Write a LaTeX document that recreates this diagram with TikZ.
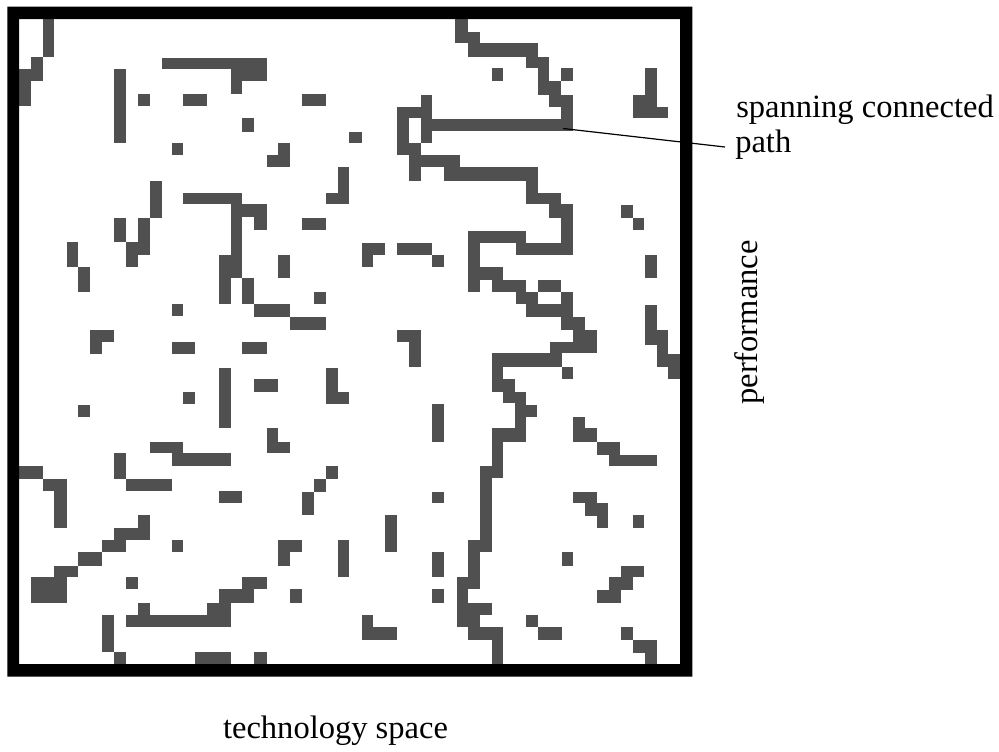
\documentclass[tikz,border=0pt]{standalone}
\usepackage{fontspec}
\setmainfont{Liberation Serif}
\definecolor{cellgray}{RGB}{80,80,80}
\begin{document}
\begin{tikzpicture}[x=0.75pt,y=-0.75pt,
  cell/.style={fill=cellgray},
  lbl/.style={inner sep=0pt,font=\fontsize{24.4}{29}\selectfont},
  leader/.style={draw=black,line width=0.9pt}]
\useasboundingbox (0,0) rectangle (999,751);
\fill[white] (0,0) rectangle (999,751);
% grey cells
\foreach \a/\b/\c/\d in {
42.7/19/54.3/57.3, 30.7/57.3/42.7/81, 19/69.3/30.7/105.7, 114/69.3/125.7/143.3,
137.7/94/149.7/105.7, 183.3/94/207/105.7, 161.7/57.7/266.7/69.3, 231/69.3/266.7/81,
231/81/242.3/94, 171.7/143.3/183.3/155, 149.7/180.7/161.7/218.3, 183.3/193.3/242.3/204.3,
231/204.3/242.3/278.3, 242.3/204.3/266.7/216.7, 254.3/216.7/266.7/230, 219/255/231/304.3,
242.3/278.3/254.3/304.3, 254.3/304.3/290/316.7, 290/316.7/325.7/330, 114/218.3/125.7/241.7,
137.7/218.3/149.7/255, 125.7/241.7/149.7/255, 125.7/255/137.7/267.3, 66.7/241.7/78.3/267.3,
78.3/267.3/90.3/292.3, 171.7/304.3/183.3/316, 90.3/330/114/342.3, 90.3/342.3/102/354,
171.7/342.3/195/354,
302.3/94/325.7/105.7, 242.3/118.3/254.3/131.7, 349.3/131.7/361.7/143.3, 278.3/143.3/290/166.7,
266.7/155/278.3/166.7, 337.7/167.3/349.3/204.3, 326/192.7/337.7/204.3, 302.3/218.3/325.7/230,
278.3/255/290/278.3, 314/292.3/325.7/304.3, 361.7/242.7/385/255, 361.7/255/373.3/267.3,
397.3/242.7/432.3/255, 432.3/255/444.3/267.3, 397.3/330/420.7/342.3, 409/342.3/420.7/367.3,
242.3/342/266.7/354,
420.7/95/432.3/143.3, 397.3/106.7/432.3/118.3, 397.3/106.7/409/155, 409/143.3/420.7/180.7,
409/155/460/167.3, 444.3/167.3/537.7/180.7,
455/19/468.3/43.3, 468.3/31.7/480/56.7, 468.3/43.3/537.7/56.7, 526/56.7/549.3/68.3,
537.7/68.3/549.3/95, 549.3/81/561/95, 549.3/95/573.3/106.7, 561/106.7/573.3/130.5,
432.3/118.5/573.3/130.5, 491.7/68.3/503.3/81, 561/68.3/573.3/81, 645/68.3/656.7/118.3,
632.7/95/645/118.3, 656.7/106.7/668.3/118.3,
526/180.7/537.7/204.3, 526/192.7/561/204.3, 549.3/204.3/573.3/218.3, 561/204.3/573.3/255,
516/242.7/573.3/255, 516/231/526/255, 468.3/231/526/242.7, 468.3/231/480/292.3,
468.3/267.3/503.3/280, 491.7/280/526/292.3, 516/292.3/537.7/304.3, 526/304.3/573.3/316.7,
561/316.7/585/330, 573.3/330/596.7/353.3, 537.7/280/561/292.3, 561/292.3/573.3/316.7,
620.7/205/632.7/218.3, 632.7/218.3/644.3/230, 645/255/656.7/278.3, 645/305/656.7/345,
656.7/330/668.3/366.7, 668.3/354/680/379.3,
550/341.7/573.3/353.3, 491.7/353.3/561.7/366.7, 491.7/353.3/503.3/391.7, 503.3/379.3/515/403.3,
515/391.7/526/441.7, 526/405/537.3/416.7, 491.7/428.3/526/441.7, 491.7/428.3/503.3/478.3,
480/466/503.3/478.3, 480/466/491.7/551.7, 468.3/540/491.7/551.7, 468.3/540/480/589.3,
456.7/577.3/480/589.3, 456.7/577.3/468.3/626.7, 456.7/603.3/491.7/615, 468.3/615/480/640,
468.3/626.7/503.3/640, 491.7/626.7/503.3/664, 561.7/366.7/573.3/379.3, 573.3/416.7/585/441.7,
585/428.3/596.7/441.7, 596.7/441.7/620/455, 609/455/656.7/466, 573.3/491.7/596.7/503.3,
585/503.3/608.3/516, 596.7/516/608.3/528.3, 632.7/515/644.3/528.3, 561.7/552.3/573.3/565.7,
620.7/566/644.3/577.3, 609/577.3/632.7/590, 597.3/590/620.7/602.7, 526/615/537.7/626.7,
537.7/626.7/561.7/640, 620.7/626.7/632.7/640, 632.7/640/656.7/653.3, 645/640/656.7/664,
78.3/405/90.3/416.7, 183.3/391.7/195/404.3, 219/367.7/231/428.3, 149.7/441.7/183.3/453.3,
171.7/453.3/231/465.7, 114/453.3/125.7/479.3, 125.7/479.3/171.7/491, 19/465.7/42.7/479.3,
42.7/479.3/66.7/491, 54.3/479.3/66.7/528.3, 219/491/242.3/503.3, 137.7/515/149.7/540,
114/528.3/149.7/540, 102.3/540/125.7/552.3, 78.3/552.3/102.3/565.7, 54.3/565.7/78.3/577.3,
30.7/577.3/66.7/603.3, 171.7/540/183.3/552.3, 125.7/577.3/137.7/589.3, 219/589.3/254.3/603.3,
242.3/577.3/266.7/589.3, 207.3/603.3/231/626.7, 125.7/615/231/626.7, 137.7/603.3/149.7/615,
102.3/615/114/652.3, 114/652.3/125.7/664, 195/652.3/231/664,
254.3/379.3/278.3/391.7, 326/367.7/337.7/404.3, 326/391.7/349.3/404.3, 266.7/428.3/278.3/453.3,
266.7/441.7/290/453.3, 432.3/404.3/444.3/441.7, 326/466/337.7/479.3, 314/479.3/326/491.7,
302.3/491.7/314/515, 432.3/491.7/444.3/503.3, 385/515/397.3/552.3, 278.3/540/301.7/552.3,
278.3/552.3/290/565.7, 337.7/540/349.3/577.3, 432.3/552.3/444.3/577.3, 290/589.3/301.7/603.3,
432.3/589.3/444.3/603.3, 361.7/615/373.3/640, 361.7/626.7/397.3/640, 254.3/652.3/266.7/664}
  \fill[cell] (\a,\b) rectangle (\c,\d);
% thick frame
\fill[black,even odd rule] (7.3,6.7) rectangle (692.3,676.7) (19,19) rectangle (680,664);
% labels
\node[lbl,anchor=base west] (spanlbl) at (736,117.3) {spanning connected};
\node[lbl,anchor=base west] (pathlbl) at (735,152.7) {path};
\node[lbl,anchor=base,rotate=90] (perf) at (757.7,322.5) {performance};
\node[lbl,anchor=base] (tech) at (335.5,738.3) {technology space};
% leader line
\coordinate (pend) at (563,128.5);
\coordinate (lend) at (725,147);
\draw[leader] (pend) -- (lend);
\end{tikzpicture}
\end{document}
